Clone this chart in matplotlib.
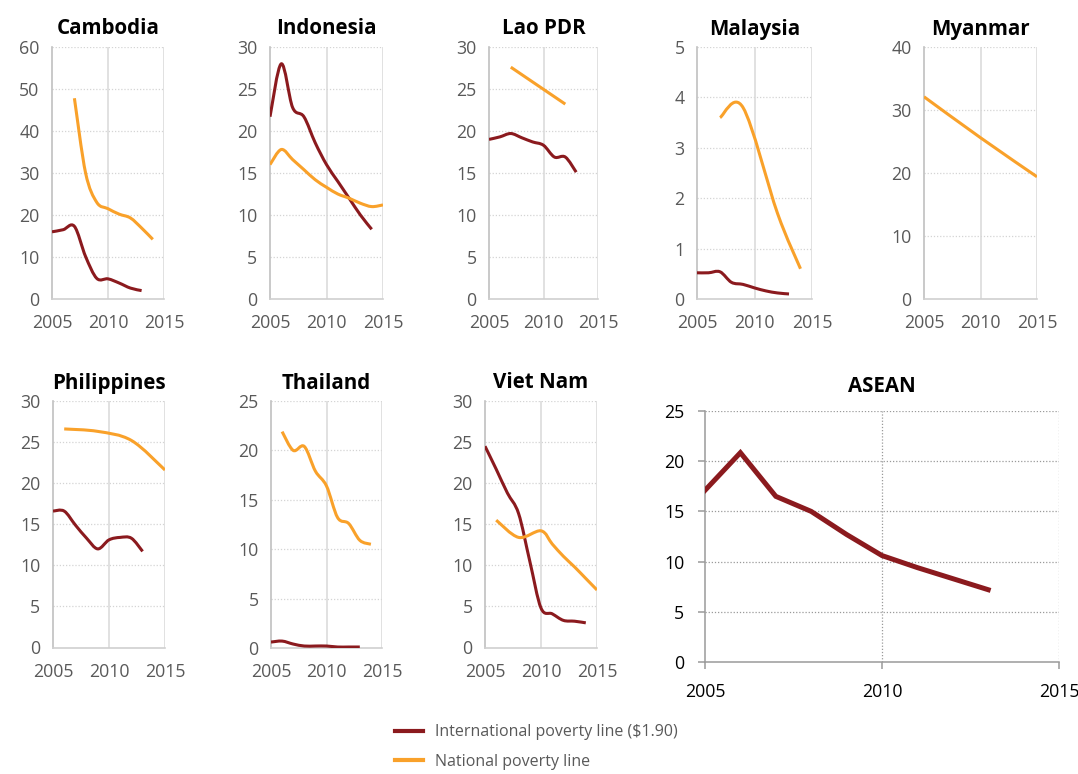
import matplotlib
matplotlib.use('Agg')
import matplotlib.pyplot as plt
from matplotlib.path import Path
from matplotlib.patches import PathPatch
from matplotlib.lines import Line2D
import numpy as np

plt.rcParams['font.family'] = ['Open Sans', 'DejaVu Sans']

RED = '#8B1A1E'
ORANGE = '#F9A12A'

# ---------------- data ----------------
cambodia_intl_years = [2005, 2006, 2007, 2008, 2009, 2010, 2011, 2012, 2013]
cambodia_intl = [16.0, 16.5, 17.3, 10.1, 4.9, 4.8, 3.8, 2.6, 2.0]
cambodia_natl_years = [2007, 2008, 2009, 2010, 2011, 2012, 2013, 2014]
cambodia_natl = [47.8, 30.0, 23.0, 21.5, 20.2, 19.3, 16.9, 14.2]

indonesia_intl_years = [2005, 2006, 2007, 2008, 2009, 2010, 2011, 2012, 2013, 2014]
indonesia_intl = [21.7, 28.0, 22.8, 21.7, 18.6, 16.0, 14.0, 12.0, 10.0, 8.3]
indonesia_natl_years = [2005, 2006, 2007, 2008, 2009, 2010, 2011, 2012, 2013, 2014, 2015]
indonesia_natl = [16.0, 17.8, 16.6, 15.4, 14.2, 13.3, 12.5, 12.0, 11.4, 11.0, 11.2]

lao_intl_years = [2005, 2006, 2007, 2008, 2009, 2010, 2011, 2012, 2013]
lao_intl = [19.0, 19.3, 19.7, 19.2, 18.7, 18.3, 16.9, 16.9, 15.1]
lao_natl_years = [2007, 2012]
lao_natl = [27.6, 23.2]

malaysia_intl_years = [2005, 2006, 2007, 2008, 2009, 2010, 2011, 2012, 2013]
malaysia_intl = [0.52, 0.52, 0.54, 0.33, 0.29, 0.22, 0.16, 0.12, 0.10]
malaysia_natl_years = [2007, 2009, 2012, 2014]
malaysia_natl = [3.6, 3.8, 1.7, 0.6]

myanmar_natl_years = [2005, 2010, 2015]
myanmar_natl = [32.1, 25.6, 19.4]

philippines_intl_years = [2005, 2006, 2007, 2008, 2009, 2010, 2011, 2012, 2013]
philippines_intl = [16.6, 16.6, 14.9, 13.3, 12.0, 13.1, 13.4, 13.3, 11.7]
philippines_natl_years = [2006, 2009, 2012, 2015]
philippines_natl = [26.6, 26.3, 25.2, 21.6]

thailand_intl_years = [2005, 2006, 2007, 2008, 2009, 2010, 2011, 2012, 2013]
thailand_intl = [0.6, 0.7, 0.4, 0.2, 0.2, 0.2, 0.1, 0.1, 0.1]
thailand_natl_years = [2006, 2007, 2008, 2009, 2010, 2011, 2012, 2013, 2014]
thailand_natl = [21.9, 20.0, 20.4, 17.9, 16.4, 13.2, 12.6, 10.9, 10.5]

vietnam_intl_years = [2005, 2006, 2007, 2008, 2009, 2010, 2011, 2012, 2013, 2014]
vietnam_intl = [24.5, 21.7, 18.8, 16.3, 10.5, 4.8, 4.1, 3.3, 3.2, 3.0]
vietnam_natl_years = [2006, 2008, 2010, 2011, 2012, 2013, 2014, 2015]
vietnam_natl = [15.5, 13.4, 14.2, 12.6, 11.1, 9.8, 8.4, 7.0]

asean_years = [2005, 2006, 2007, 2008, 2009, 2010, 2011, 2012, 2013]
asean_intl = [17.1, 20.85, 16.5, 15.0, 12.7, 10.6, 9.4, 8.3, 7.2]

x_ticks = [2005, 2010, 2015]

panels = [
    ("Cambodia", [52, 47, 164, 299], [0, 10, 20, 30, 40, 50, 60],
     (cambodia_intl_years, cambodia_intl), (cambodia_natl_years, cambodia_natl)),
    ("Indonesia", [270, 47, 383, 299], [0, 5, 10, 15, 20, 25, 30],
     (indonesia_intl_years, indonesia_intl), (indonesia_natl_years, indonesia_natl)),
    ("Lao PDR", [489, 47, 598, 299], [0, 5, 10, 15, 20, 25, 30],
     (lao_intl_years, lao_intl), (lao_natl_years, lao_natl)),
    ("Malaysia", [697, 47, 812, 299], [0, 1, 2, 3, 4, 5],
     (malaysia_intl_years, malaysia_intl), (malaysia_natl_years, malaysia_natl)),
    ("Myanmar", [924, 47, 1037, 299], [0, 10, 20, 30, 40],
     None, (myanmar_natl_years, myanmar_natl)),
    ("Philippines", [53, 401, 165, 647.5], [0, 5, 10, 15, 20, 25, 30],
     (philippines_intl_years, philippines_intl), (philippines_natl_years, philippines_natl)),
    ("Thailand", [271, 401, 382, 648], [0, 5, 10, 15, 20, 25],
     (thailand_intl_years, thailand_intl), (thailand_natl_years, thailand_natl)),
    ("Viet Nam", [485, 401, 597, 647.5], [0, 5, 10, 15, 20, 25, 30],
     (vietnam_intl_years, vietnam_intl), (vietnam_natl_years, vietnam_natl)),
]

W, H = 1078, 774
fig = plt.figure(figsize=(W / 100, H / 100), dpi=100)


def rect(px):
    l, t, r, b = px
    return [l / W, 1 - b / H, (r - l) / W, (b - t) / H]


def smooth_path(xs, ys):
    pts = np.column_stack([xs, ys]).astype(float)
    n = len(pts)
    verts = [pts[0]]
    codes = [Path.MOVETO]
    for i in range(n - 1):
        p0 = pts[i - 1] if i > 0 else pts[i]
        p1 = pts[i]
        p2 = pts[i + 1]
        p3 = pts[i + 2] if i + 2 < n else pts[i + 1]
        c1 = p1 + (p2 - p0) / 6.0
        c2 = p2 - (p3 - p1) / 6.0
        verts += [c1, c2, p2]
        codes += [Path.CURVE4] * 3
    return Path(verts, codes)


def draw_smooth(ax, xs, ys, color, lw):
    patch = PathPatch(smooth_path(xs, ys), fill=False, edgecolor=color,
                      lw=lw, joinstyle='round', capstyle='butt', zorder=3)
    ax.add_patch(patch)


for title, px, yticks, intl, natl in panels:
    ax = fig.add_axes(rect(px))
    ax.set_xlim(2005, 2015)
    ax.set_ylim(yticks[0], yticks[-1])
    ax.set_xticks(x_ticks)
    ax.set_yticks(yticks)
    for s in ['top', 'right']:
        ax.spines[s].set_visible(False)
    ax.spines['left'].set_color('#c0c0c0')
    ax.spines['bottom'].set_color('#d0d0d0')
    ax.spines['left'].set_linewidth(1.2)
    ax.spines['bottom'].set_linewidth(1.2)
    for yv in yticks[1:]:
        ax.axhline(yv, color='#d4d4d4', lw=0.9, ls=(0, (1, 1.5)), zorder=1)
    for xv in x_ticks[1:]:
        ax.axvline(xv, color='#d9d9d9', lw=1.1, zorder=1)
    ax.tick_params(length=0, labelsize=12.8, labelcolor='#595959')
    ax.tick_params(axis='x', pad=11)
    ax.tick_params(axis='y', pad=9)
    if intl is not None:
        draw_smooth(ax, intl[0], intl[1], RED, 2.2)
    if natl is not None:
        draw_smooth(ax, natl[0], natl[1], ORANGE, 2.2)
    ax.set_title(title, fontsize=14.8, fontweight='bold', color='black', pad=9)

# ASEAN panel
ax = fig.add_axes(rect([705, 411, 1059, 662]))
ax.set_xlim(2005, 2015)
ax.set_ylim(0, 25)
ax.set_xticks(x_ticks)
ax.set_yticks([0, 5, 10, 15, 20, 25])
for s in ['top', 'right']:
    ax.spines[s].set_visible(False)
for s in ['left', 'bottom']:
    ax.spines[s].set_color('#9a9a9a')
    ax.spines[s].set_linewidth(1.1)
for yv in [5, 10, 15, 20, 25]:
    ax.axhline(yv, color='#9a9a9a', lw=0.9, ls=(0, (1, 1.5)), zorder=1)
for xv in [2010, 2015]:
    ax.axvline(xv, color='#9a9a9a', lw=0.9, ls=(0, (1, 1.5)), zorder=1)
ax.tick_params(length=5, width=1.1, color='#9a9a9a', labelsize=12.8,
               labelcolor='black', direction='out')
ax.tick_params(axis='x', pad=10)
ax.tick_params(axis='y', pad=10)
ax.plot(asean_years, asean_intl, color=RED, lw=3.6, solid_joinstyle='miter', zorder=3)
ax.set_title("ASEAN", fontsize=14.8, fontweight='bold', color='black', pad=14)

handles = [Line2D([], [], color=RED, lw=3),
           Line2D([], [], color=ORANGE, lw=3)]
fig.legend(handles, ['International poverty line ($1.90)', 'National poverty line'],
           loc='lower left', bbox_to_anchor=(381 / W, -0.013), frameon=False,
           fontsize=11.5, labelcolor='#595959', handlelength=1.7,
           handletextpad=0.8, labelspacing=0.85)

fig.savefig('out.png', dpi=100)
